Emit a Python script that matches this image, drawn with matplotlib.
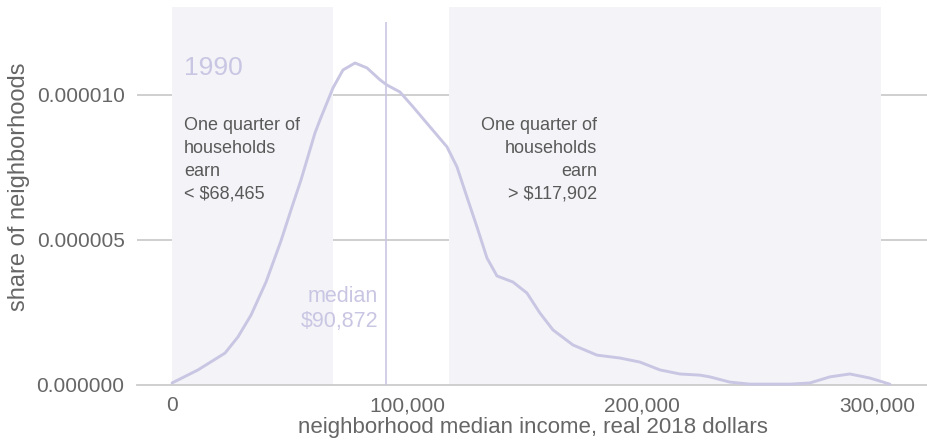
import matplotlib.pyplot as plt
from matplotlib.ticker import FuncFormatter

# Density curve of neighborhood median income, 1990
income = [0, 11050, 22530, 28060, 33590, 39970, 46340, 51020, 54850, 60800,
          62930, 68450, 72700, 77810, 82910, 88440, 91410, 96940, 102470,
          109690, 116920, 121170, 125420, 129680, 133930, 138180, 144980,
          150940, 156460, 161990, 170490, 180700, 190480, 198980, 207490,
          215990, 224490, 228740, 237250, 245750, 262760, 271260, 279760,
          288270, 296770, 305270]
density_e6 = [0.07, 0.52, 1.10, 1.66, 2.41, 3.55, 4.97, 6.14, 7.07, 8.69,
              9.14, 10.24, 10.86, 11.10, 10.93, 10.52, 10.34, 10.10, 9.59,
              8.90, 8.21, 7.52, 6.48, 5.45, 4.38, 3.76, 3.55,
              3.17, 2.48, 1.90, 1.38, 1.03, 0.93, 0.79, 0.52,
              0.38, 0.34, 0.28, 0.10, 0.03, 0.03, 0.07, 0.28,
              0.38, 0.24, 0.03]
density = [d * 1e-6 for d in density_e6]

year = "1990"
q1 = 68465
median = 90872
q3 = 117902
x_max = 301400

x_ticks = [0, 100000, 200000, 300000]
y_ticks = [0, 0.000005, 0.00001]

curve_col = "#c9c6e3"
shade_col = "#f3f3f8"
text_col = "#595959"
tick_col = "#666666"

plt.rcParams["font.family"] = ["Liberation Sans", "DejaVu Sans"]

fig = plt.figure(figsize=(9.28, 4.41), dpi=100)
ax = fig.add_axes([137 / 928, 56 / 441, 791 / 928, 378 / 441])
ax.set_xlim(-14900, 321500)
ax.set_ylim(0, 1.303e-5)

# gridlines (hidden behind the shaded quartile bands)
for yv in y_ticks[1:]:
    ax.axhline(yv, color="#cccccc", lw=1.3, zorder=1)
ax.axvspan(0, q1, color=shade_col, lw=0, zorder=2)
ax.axvspan(q3, x_max, color=shade_col, lw=0, zorder=2)
ax.axhline(0, color="#cccccc", lw=1.3, zorder=3, clip_on=False)

# median line
ax.vlines(median, 0, 1.252e-5, color=curve_col, lw=1.2, zorder=3)

ax.plot(income, density, color=curve_col, lw=2.1, zorder=4,
        solid_capstyle="round", solid_joinstyle="round", clip_on=False)

# annotations
ax.text(5100, 1.093e-5, year, color=curve_col, fontsize=19, va="center", ha="left")
ax.text(5100, 7.76e-6, "One quarter of\nhouseholds\nearn\n< $68,465",
        color=text_col, fontsize=13, ha="left", va="center", linespacing=1.45)
ax.text(180700, 7.76e-6, "One quarter of\nhouseholds\nearn\n> $117,902",
        color=text_col, fontsize=13, ha="right", va="center",
        multialignment="right", linespacing=1.45)
ax.text(87700, 2.62e-6, "median\n$90,872", color=curve_col, fontsize=15.5,
        ha="right", va="center", multialignment="right", linespacing=1.3)

ax.set_xticks(x_ticks)
ax.xaxis.set_major_formatter(FuncFormatter(lambda v, p: f"{v:,.0f}"))
ax.set_yticks(y_ticks)
ax.yaxis.set_major_formatter(FuncFormatter(lambda v, p: f"{v:.6f}"))
ax.tick_params(length=0, labelsize=15, colors=tick_col)
ax.tick_params(axis="x", pad=8)
ax.tick_params(axis="y", pad=9)
for s in ax.spines.values():
    s.set_visible(False)

ax.set_xlabel("neighborhood median income, real 2018 dollars", fontsize=16,
              color=tick_col, labelpad=1)
ax.set_ylabel("share of neighborhoods", fontsize=17, color=tick_col, labelpad=5)
ax.yaxis.label.set_y(0.524)

fig.savefig("out.png", dpi=100)
